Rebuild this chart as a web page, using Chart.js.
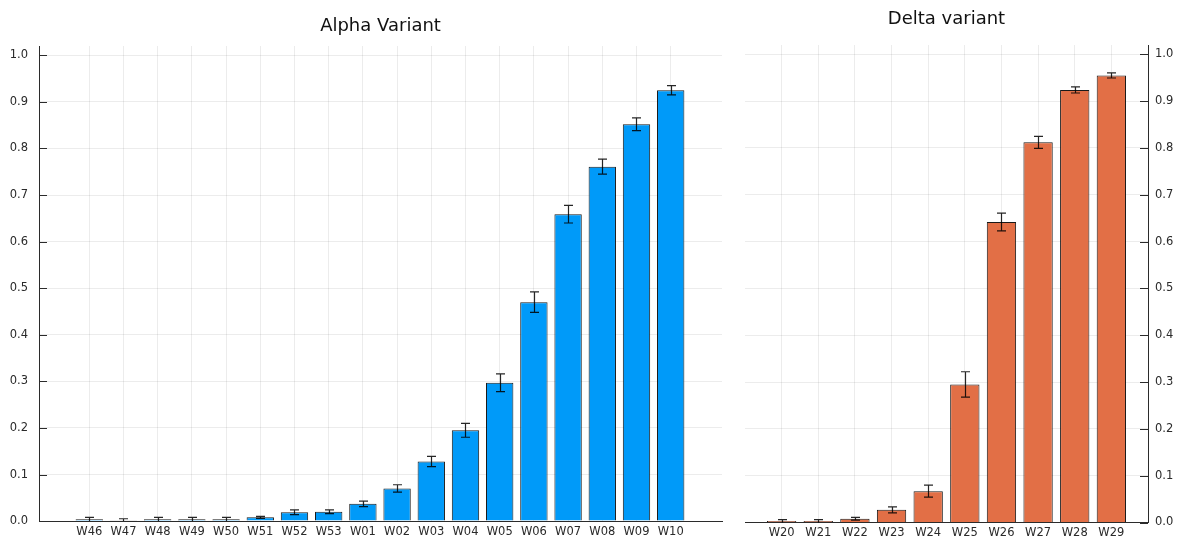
<!DOCTYPE html>
<html>
<head>
<meta charset="utf-8">
<script src="https://cdn.jsdelivr.net/npm/chart.js@4.4.1/dist/chart.umd.min.js"></script>
<style>
  html, body { margin: 0; padding: 0; background: #fff; }
  #wrap { position: relative; width: 1177px; height: 539px; overflow: hidden; }
  #wrap canvas { position: absolute; top: 0; }
  #alpha { left: 0; }
  #delta { left: 735px; }
</style>
</head>
<body>
<div id="wrap">
  <canvas id="alpha" width="735" height="539"></canvas>
  <canvas id="delta" width="442" height="539"></canvas>
</div>
<script>
// Weekly share of sequenced cases, with half-width of the confidence interval
const alphaWeeks = ['W46', 'W47', 'W48', 'W49', 'W50', 'W51', 'W52', 'W53', 'W01',
                    'W02', 'W03', 'W04', 'W05', 'W06', 'W07', 'W08', 'W09', 'W10'];
const alphaShare = [0.004, 0.002, 0.004, 0.004, 0.004, 0.008, 0.019, 0.020, 0.037,
                    0.070, 0.128, 0.195, 0.297, 0.470, 0.659, 0.761, 0.852, 0.925];
const alphaErr   = [0.004, 0.003, 0.004, 0.004, 0.004, 0.002, 0.005, 0.004, 0.006,
                    0.008, 0.011, 0.015, 0.019, 0.022, 0.019, 0.016, 0.0135, 0.010];

const deltaWeeks = ['W20', 'W21', 'W22', 'W23', 'W24', 'W25', 'W26', 'W27', 'W28', 'W29'];
const deltaShare = [0.003, 0.003, 0.008, 0.027, 0.067, 0.295, 0.642, 0.812, 0.924, 0.955];
const deltaErr   = [0.003, 0.003, 0.003, 0.0065, 0.013, 0.027, 0.019, 0.013, 0.0065, 0.0055];

const shareTicks = [0.0, 0.1, 0.2, 0.3, 0.4, 0.5, 0.6, 0.7, 0.8, 0.9, 1.0];

Chart.defaults.font.family = "'DejaVu Sans', 'Liberation Sans', sans-serif";

const GRID = 'rgba(0,0,0,0.075)';
const SPINE = '#2b2b2b';
const LABEL = '#2a2a2a';

// Vertical error bars with caps, drawn over each bar
const errorBars = {
  id: 'errorBars',
  afterDatasetsDraw(chart, args, opts) {
    const { ctx, scales: { x, y }, chartArea } = chart;
    const pts = chart.data.datasets[0].data;
    ctx.save();
    ctx.strokeStyle = opts.color;
    ctx.lineWidth = opts.width;
    pts.forEach((p, i) => {
      const e = opts.errors[i];
      const px = Math.round(x.getPixelForValue(p.x)) + 0.5;
      const top = y.getPixelForValue(p.y + e);
      const bot = Math.min(y.getPixelForValue(p.y - e), chartArea.bottom);
      ctx.beginPath();
      ctx.moveTo(px, top); ctx.lineTo(px, bot);
      ctx.moveTo(px - opts.cap, top); ctx.lineTo(px + opts.cap, top);
      if (p.y - e > 0) { ctx.moveTo(px - opts.cap, bot); ctx.lineTo(px + opts.cap, bot); }
      ctx.stroke();
    });
    ctx.restore();
  }
};

// Short tick marks pointing into the plot from the value axis
const innerTicks = {
  id: 'innerTicks',
  beforeDatasetsDraw(chart, args, opts) {
    const { ctx, chartArea, scales: { y } } = chart;
    ctx.save();
    ctx.strokeStyle = SPINE;
    ctx.lineWidth = 1;
    y.ticks.forEach(t => {
      const py = Math.round(y.getPixelForValue(t.value)) + 0.5;
      const x0 = opts.side === 'left' ? chartArea.left : chartArea.right;
      const x1 = opts.side === 'left' ? x0 + opts.length : x0 - opts.length;
      ctx.beginPath(); ctx.moveTo(x0, py); ctx.lineTo(x1, py); ctx.stroke();
    });
    ctx.restore();
  }
};

function variantChart(id, cfg) {
  return new Chart(document.getElementById(id), {
    type: 'bar',
    data: {
      datasets: [{
        data: cfg.weeks.map((w, i) => ({ x: i, y: cfg.share[i] })),
        backgroundColor: cfg.color,
        borderColor: 'rgba(0,0,0,0.9)',
        borderWidth: 1,
        barPercentage: 0.8,
        categoryPercentage: 1.0
      }]
    },
    options: {
      responsive: false,
      animation: false,
      events: [],
      layout: { padding: cfg.padding },
      plugins: {
        legend: { display: false },
        tooltip: { enabled: false },
        title: {
          display: true,
          text: cfg.title,
          fullSize: false,
          color: '#111',
          font: { size: 18, weight: 'normal' },
          padding: cfg.titlePadding
        },
        errorBars: { errors: cfg.err, color: 'rgba(0,0,0,0.85)', width: 1.2, cap: 4.5 },
        innerTicks: { side: cfg.yPos, length: 8 }
      },
      scales: {
        x: {
          type: 'linear',
          min: cfg.xMin,
          max: cfg.xMax,
          offset: false,
          grid: { offset: false, color: GRID, drawTicks: false },
          border: { display: true, color: SPINE, width: 1 },
          ticks: {
            padding: 4,
            color: LABEL,
            font: { size: 11.5 },
            autoSkip: false,
            maxRotation: 0,
            callback: v => cfg.weeks[v]
          },
          afterBuildTicks: s => { s.ticks = cfg.weeks.map((w, i) => ({ value: i })); },
          afterFit: s => { s.height = cfg.xHeight; }
        },
        y: {
          position: cfg.yPos,
          min: 0,
          max: 1.02,
          grid: { color: GRID, drawTicks: false },
          border: { display: true, color: SPINE, width: 1 },
          ticks: {
            padding: cfg.yPad,
            color: LABEL,
            font: { size: 11.5 },
            callback: v => v.toFixed(1)
          },
          afterBuildTicks: s => { s.ticks = shareTicks.map(v => ({ value: v })); },
          afterFit: s => { s.width = cfg.yWidth; }
        }
      }
    },
    plugins: [errorBars, innerTicks]
  });
}

variantChart('alpha', {
  title: 'Alpha Variant',
  weeks: alphaWeeks, share: alphaShare, err: alphaErr,
  color: '#009AF9',
  xMin: -1.47, xMax: 18.5,
  yPos: 'left', yWidth: 39, yPad: 11, xHeight: 15.5,
  padding: { left: 0, right: 13, top: 0, bottom: 0 },
  titlePadding: { top: 15.5, bottom: 8.9 }
});

variantChart('delta', {
  title: 'Delta variant',
  weeks: deltaWeeks, share: deltaShare, err: deltaErr,
  color: '#E26F46',
  xMin: -1, xMax: 10,
  yPos: 'right', yWidth: 29, yPad: 7, xHeight: 16.5,
  padding: { left: 10, right: 0, top: 0, bottom: 0 },
  titlePadding: { top: 9, bottom: 14.4 }
});
</script>
</body>
</html>
